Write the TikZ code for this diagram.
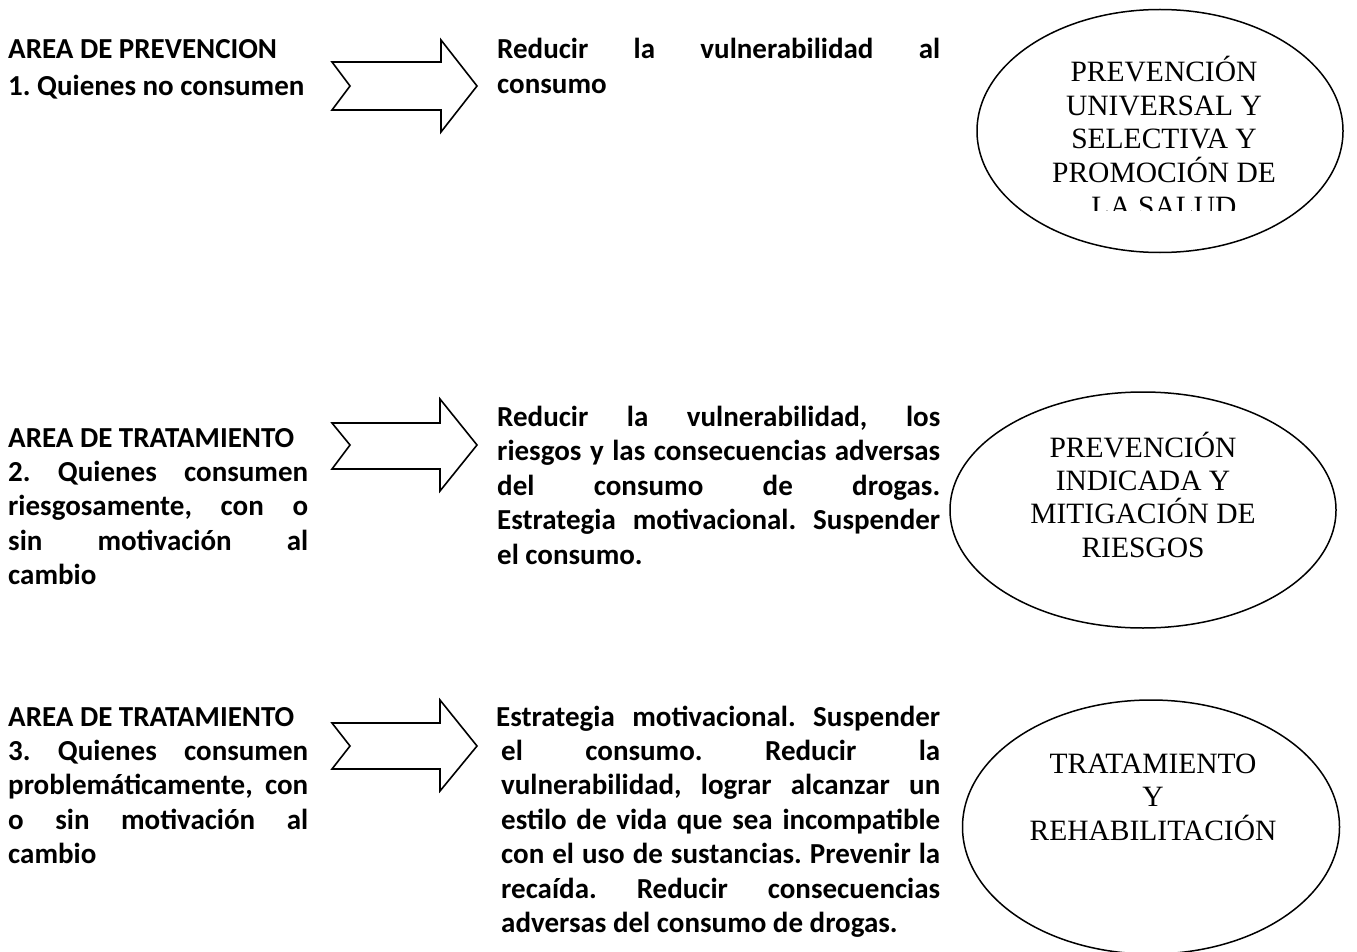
\documentclass[tikz,border=0pt]{standalone}
\usepackage{fontspec}
\setmainfont{Carlito}
\newfontfamily\ellfont{Liberation Serif}
\usetikzlibrary{shapes.geometric}
\frenchspacing
\tikzset{
  txt/.style={inner sep=0pt, anchor=base west, font=\fontsize{29}{34.5}\selectfont\bfseries},
  elltxt/.style={inner sep=0pt, anchor=base, font=\fontsize{29.5}{33.5}\selectfont\ellfont},
  oval/.style={draw, ellipse, line width=1.5pt, inner sep=0pt},
  chevron/.style={draw, line width=1.6pt, line join=miter, fill=white}
}
\newcommand{\jline}[2]{\hbox to #1{#2}}
\begin{document}
\begin{tikzpicture}[x=1pt,y=-1pt]
\useasboundingbox (0,0) rectangle (1357,952);
% ---------- block 1 ----------
\node[txt] (h1) at (8,59) {AREA DE PREVENCION};
\node[txt] (l1) at (8,96) {1. Quienes no consumen};
\draw[chevron] (332,62) -- (441,62) -- (441,40) -- (477,86) -- (441,132) -- (441,110) -- (332,110) -- (350,86) -- cycle;
\node[txt] (m1) at (497,59) {\vtop{\baselineskip=34.5pt
  \jline{443pt}{Reducir\hfill la\hfill vulnerabilidad\hfill al}
  \hbox{consumo}}};
\node[oval, minimum width=366pt, minimum height=243pt] (e1) at (1160,131) {};
\begin{scope}
\clip (970,0) rectangle (1350,211);
\node[elltxt] (t1a) at (1164,82) {PREVENCIÓN};
\node[elltxt] (t1b) at (1164,115.5) {UNIVERSAL Y};
\node[elltxt] (t1c) at (1164,149) {SELECTIVA Y};
\node[elltxt] (t1d) at (1164,182.5) {PROMOCIÓN DE};
\node[elltxt] (t1e) at (1164,216) {LA SALUD};
\end{scope}
% ---------- block 2 ----------
\node[txt] (h2) at (8,447) {AREA DE TRATAMIENTO};
\node[txt] (l2) at (8,481) {\vtop{\baselineskip=34.5pt
  \jline{300pt}{2.\hfill Quienes\hfill consumen}
  \jline{300pt}{riesgosamente,\hfill con\hfill o}
  \jline{300pt}{sin\hfill motivación\hfill al}
  \hbox{cambio}}};
\draw[chevron] (332,423) -- (440,423) -- (440,399) -- (477,445) -- (440,491) -- (440,469) -- (332,469) -- (350,445) -- cycle;
\node[txt] (m2) at (497,426) {\vtop{\baselineskip=34.5pt
  \jline{443pt}{Reducir\hfill la\hfill vulnerabilidad,\hfill los}
  \jline{443pt}{riesgos\hfill y\hfill las\hfill consecuencias\hfill adversas}
  \jline{443pt}{del\hfill consumo\hfill de\hfill drogas.}
  \jline{443pt}{Estrategia\hfill motivacional.\hfill Suspender}
  \hbox{el consumo.}}};
\node[oval, minimum width=386pt, minimum height=236pt] (e2) at (1143,510) {};
\node[elltxt] (t2a) at (1143,457) {PREVENCIÓN};
\node[elltxt] (t2b) at (1143,490) {INDICADA Y};
\node[elltxt] (t2c) at (1143,523) {MITIGACIÓN DE};
\node[elltxt] (t2d) at (1143,557) {RIESGOS};
% ---------- block 3 ----------
\node[txt] (h3) at (8,726) {AREA DE TRATAMIENTO};
\node[txt] (l3) at (8,760) {\vtop{\baselineskip=34.5pt
  \jline{300pt}{3.\hfill Quienes\hfill consumen}
  \jline{300pt}{problemáticamente,\hfill con}
  \jline{300pt}{o\hfill sin\hfill motivación\hfill al}
  \hbox{cambio}}};
\draw[chevron] (332,723) -- (440,723) -- (440,700) -- (477,746) -- (440,791) -- (440,769) -- (332,769) -- (350,746) -- cycle;
\node[txt] (m3a) at (496,726) {\jline{444pt}{Estrategia\hfill motivacional.\hfill Suspender}};
\node[txt] (m3) at (501,760) {\vtop{\baselineskip=34.5pt
  \jline{439pt}{el\hfill consumo.\hfill Reducir\hfill la}
  \jline{439pt}{vulnerabilidad,\hfill lograr\hfill alcanzar\hfill un}
  \jline{439pt}{estilo\hfill de\hfill vida\hfill que\hfill sea\hfill incompatible}
  \jline{439pt}{con\hfill el\hfill uso\hfill de\hfill sustancias.\hfill Prevenir\hfill la}
  \jline{439pt}{recaída.\hfill Reducir\hfill consecuencias}
  \hbox{adversas del consumo de drogas.}}};
\node[oval, minimum width=377pt, minimum height=254pt] (e3) at (1151,827) {};
\node[elltxt] (t3a) at (1153,773) {TRATAMIENTO};
\node[elltxt] (t3b) at (1153,806) {Y};
\node[elltxt] (t3c) at (1153,840) {REHABILITACIÓN};
\end{tikzpicture}
\end{document}
